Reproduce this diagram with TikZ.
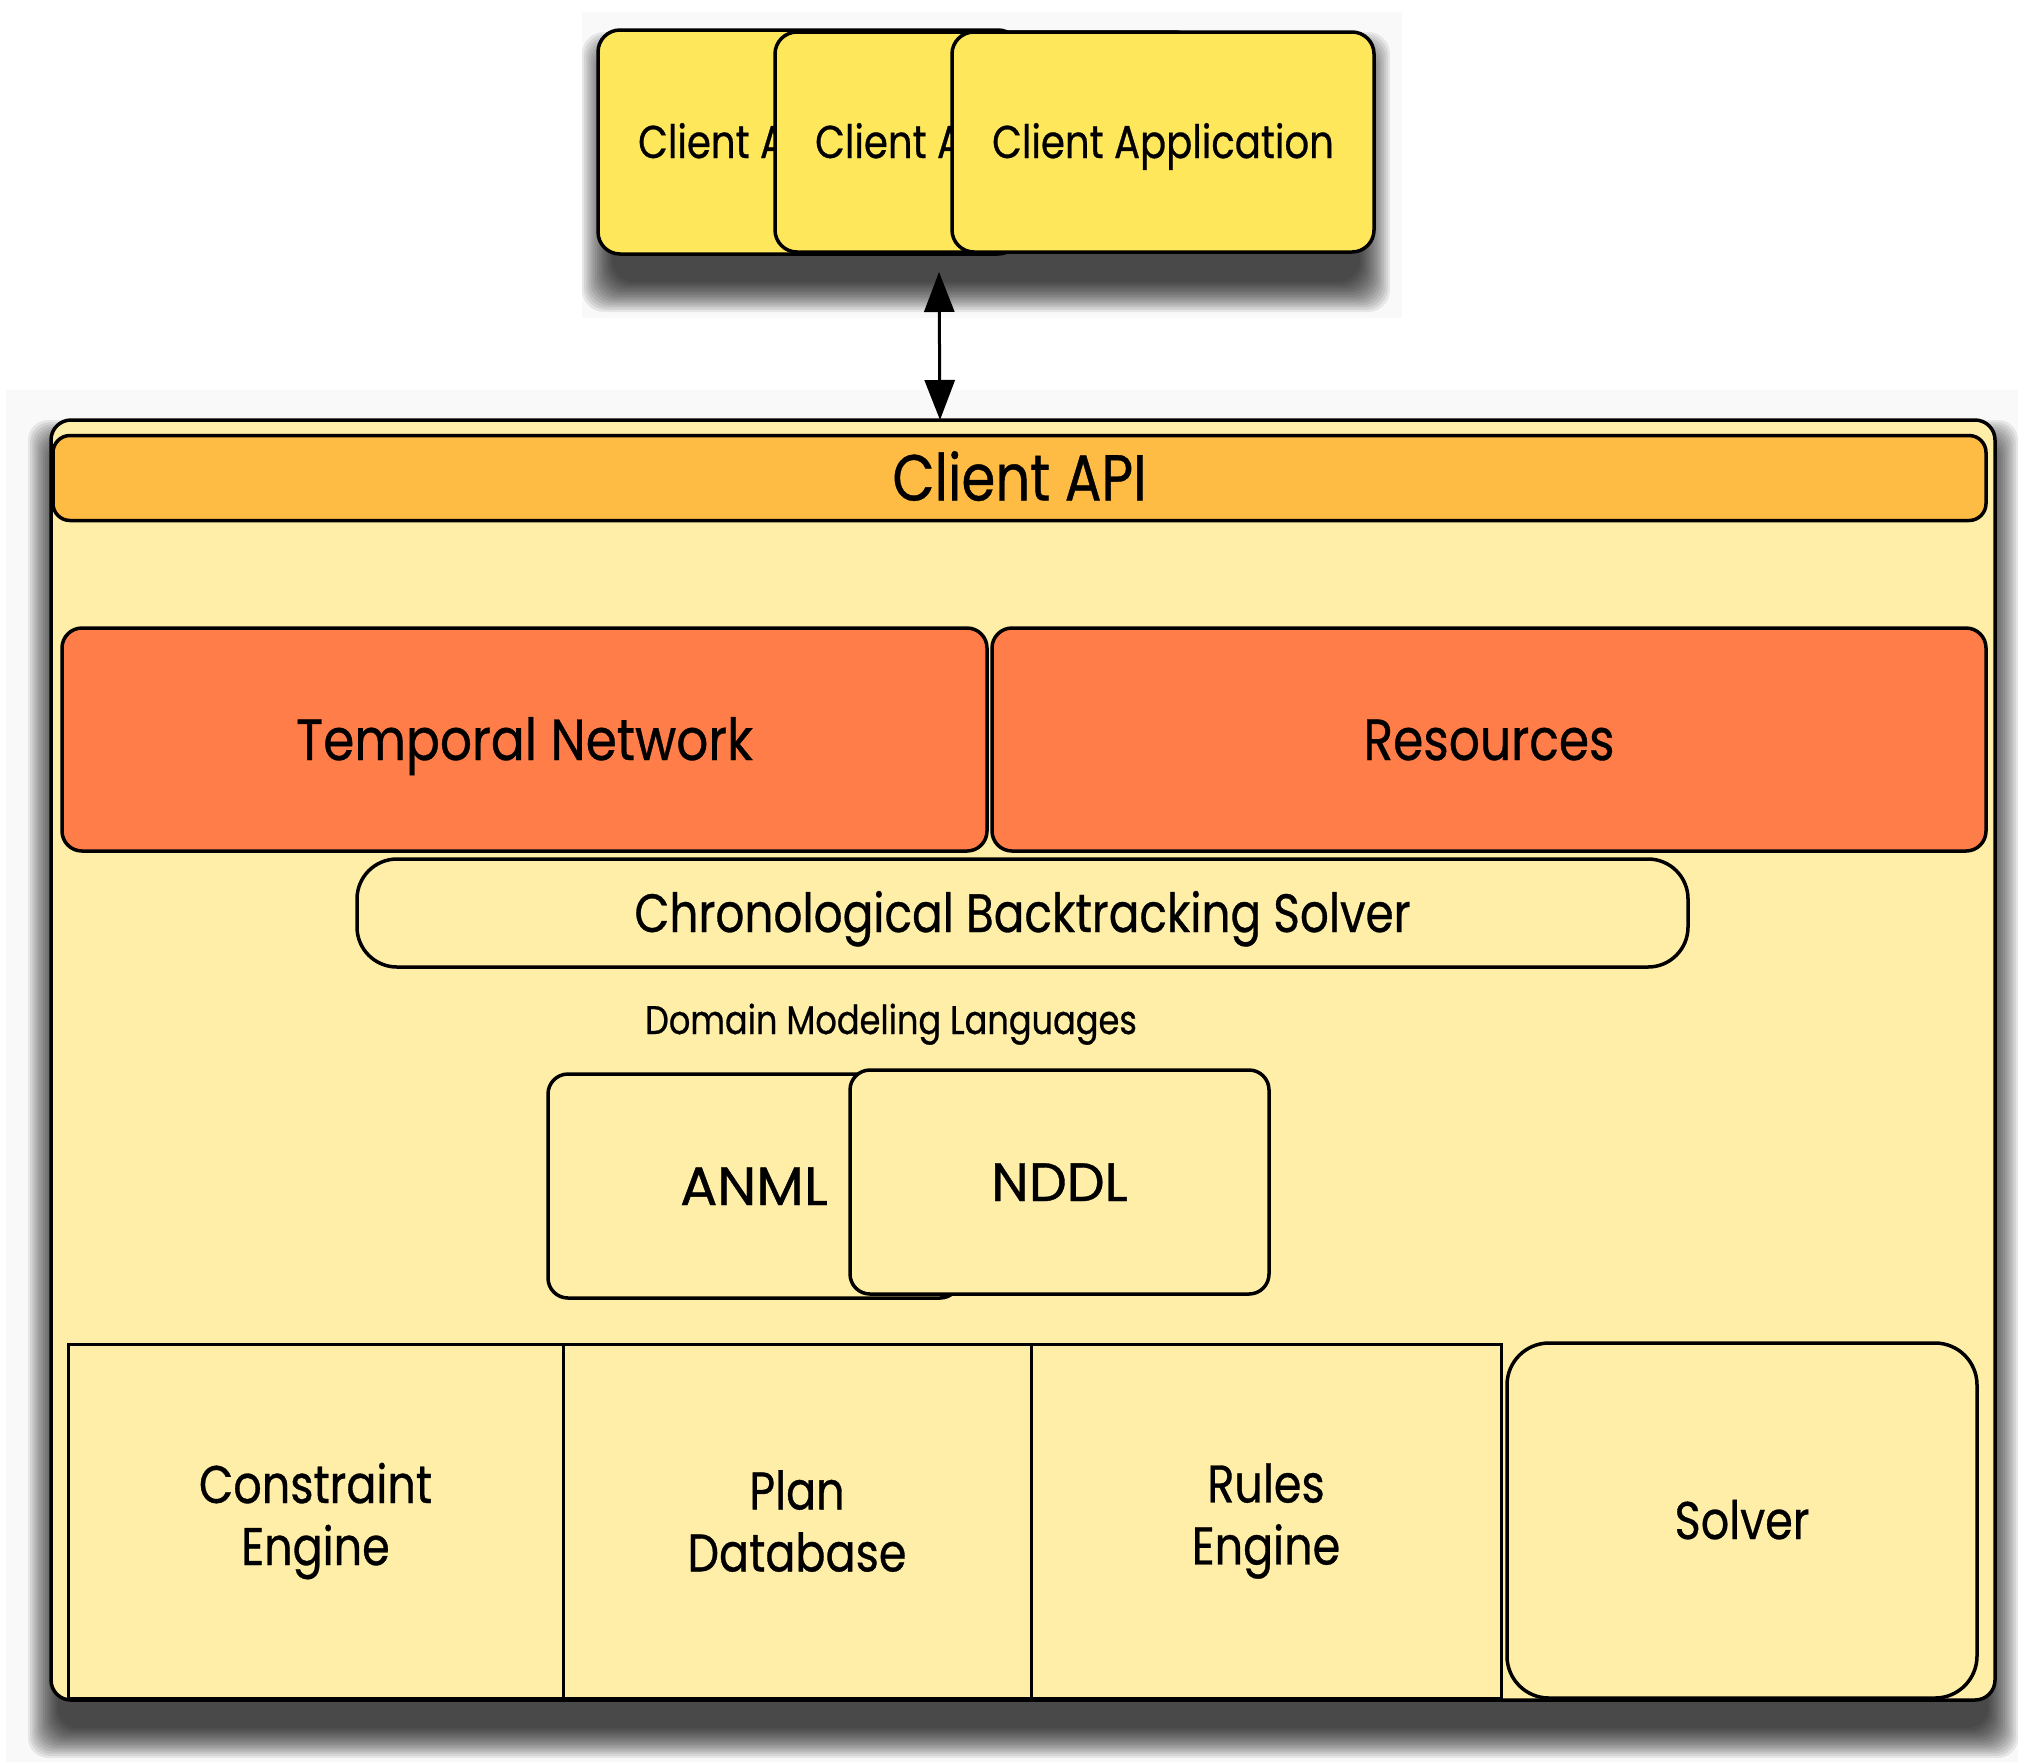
\documentclass[tikz,border=0pt]{standalone}
\usepackage{graphicx}
\usepackage{fontspec}
\setmainfont{Poppins}[FakeStretch=0.84,FakeBold=0.6]
\usetikzlibrary{arrows.meta}
\definecolor{appyellow}{HTML}{FFE75B}
\definecolor{paleyellow}{HTML}{FFEEA8}
\definecolor{apiorange}{HTML}{FFBC44}
\definecolor{redorange}{HTML}{FF7D48}
% soft shadow: x1 y1 x2 y2 radius spread
\newcommand\mysoftshadow[6]{%
  \foreach \k in {0,...,14}{%
    \pgfmathsetmacro\shE{#6*(1-\k/14)}%
    \fill[black, opacity=0.075, rounded corners=#5] (#1-\shE, #2-\shE) rectangle (#3+\shE, #4+\shE);
  }}
\begin{document}
\begin{tikzpicture}[x=1pt,y=-1pt,
  box/.style={draw=black, line width=3.5pt, rounded corners=20pt, inner sep=0pt, outer sep=0pt, align=center},
  sqbox/.style={draw=black, line width=3pt, inner sep=0pt, outer sep=0pt, align=center, fill=paleyellow},
  fsA/.style={font=\fontsize{46}{50}\selectfont, text height=32pt, text depth=0pt},
  fsB/.style={font=\fontsize{54}{62}\selectfont, text height=38pt, text depth=0pt},
  fsC/.style={font=\fontsize{58}{64}\selectfont, text height=41pt, text depth=0pt},
  fsD/.style={font=\fontsize{65}{70}\selectfont, text height=45pt, text depth=0pt},
  fsE/.style={font=\fontsize{40}{44}\selectfont, text height=28pt, text depth=0pt},
  fsF/.style={font=\fontsize{53}{62}\selectfont},
  fsG/.style={font=\fontsize{53}{62}\selectfont, text height=37pt, text depth=0pt},
  bigtip/.tip={Triangle[length=40pt,width=30pt]}]
\useasboundingbox (0,0) rectangle (2041,1762);
% faint background areas
\fill[black!2.5] (582,12) rectangle (1402,318);
\fill[black!2.5] (6,390) rectangle (2018,1762);
% shadow of container
\mysoftshadow{58}{450}{1988}{1728}{20}{30}
% container
\node[box, fill=paleyellow, minimum width=1944pt, minimum height=1280pt] (outer) at (1023,1060) {};
\node[box, fill=apiorange, rounded corners=17pt, minimum width=1933pt, minimum height=85pt, fsD] (api) at (1019.5,478) {Client API};
\node[box, fill=redorange, minimum width=925pt, minimum height=223pt, fsC] (tn) at (524.5,739.5) {\scalebox{1.03}[1]{Temporal Network}};
\node[box, fill=redorange, minimum width=994pt, minimum height=223pt, fsC] (res) at (1489,739.5) {Resources};
\node[box, fill=paleyellow, rounded corners=40pt, minimum width=1331pt, minimum height=108pt, fsB] (chron) at (1022.5,913) {Chronological Backtracking Solver};
\node[fsE, inner sep=0pt] (dml) at (891,1020) {Domain Modeling Languages};
\node[box, fill=paleyellow, minimum width=412pt, minimum height=224pt, fsB] (anml) at (754,1186) {\scalebox{1.22}[1]{ANML}};
\node[box, fill=paleyellow, minimum width=419pt, minimum height=224pt, fsB] (nddl) at (1059.5,1182) {\scalebox{1.18}[1]{NDDL}};
\node[sqbox, minimum width=495pt, minimum height=354pt, fsF] (ce) at (315.5,1521) {Constraint\\Engine};
\node[sqbox, minimum width=468pt, minimum height=354pt, fsF] (pd) at (797,1521) {Plan\\Database};
\node[sqbox, minimum width=470pt, minimum height=354pt, fsF] (re) at (1266,1521) {Rules\\Engine};
\node[box, fill=paleyellow, rounded corners=42pt, minimum width=470pt, minimum height=355pt, fsG] (solver) at (1742,1520.5) {Solver};
% client applications
\mysoftshadow{612}{62}{1360}{282}{22}{30}
\node[box, fill=appyellow, rounded corners=22pt, minimum width=422pt, minimum height=224pt, fsA] (ca1) at (809,142) {Client Application};
\node[box, fill=appyellow, rounded corners=22pt, minimum width=422pt, minimum height=220pt, fsA] (ca2) at (986,142) {Client Application};
\node[box, fill=appyellow, rounded corners=22pt, minimum width=422pt, minimum height=220pt, fsA] (ca3) at (1163,142) {Client Application};
% connector
\coordinate (axTop) at (939,0);
\coordinate (axBot) at (940,0);
\coordinate (aTop) at ([yshift=-20pt]ca2.south -| axTop);
\coordinate (aBot) at (outer.north -| axBot);
\draw[line width=3pt, {bigtip}-{bigtip}] (aTop) -- (aBot);
\end{tikzpicture}
\end{document}
